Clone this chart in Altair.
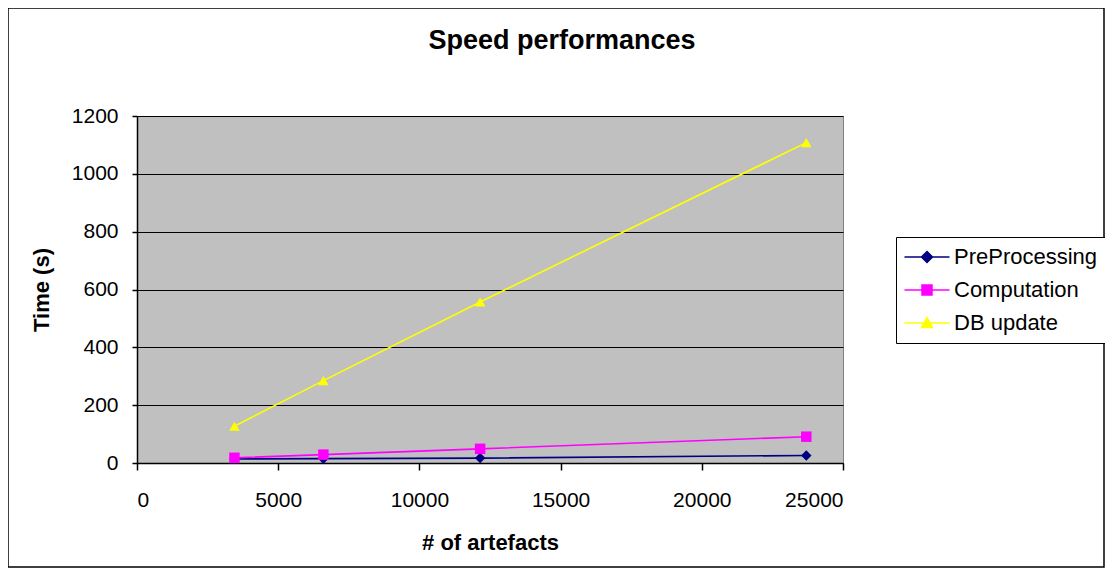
import altair as alt
import pandas as pd

artefacts = [3450, 6600, 12150, 23700]
series_names = ["PreProcessing", "Computation", "DB update"]
preprocessing = [14, 15, 17, 26]
computation = [18, 29, 49, 91]
db_update = [127, 285, 557, 1108]
series_colors = ["#000080", "#FF00FF", "#FFFF00"]
marker_shapes = ["diamond", "square", "triangle-up"]
x_ticks = [0, 5000, 10000, 15000, 20000, 25000]
y_ticks = [0, 200, 400, 600, 800, 1000, 1200]

rows = []
for name, vals in zip(series_names, [preprocessing, computation, db_update]):
    for i, (a, v) in enumerate(zip(artefacts, vals)):
        rows.append({"artefacts": a, "time": v, "series": name, "order": i})
df = pd.DataFrame(rows)

FONT = "Liberation Sans"

legend_paths = [
    "M-4.5,0H4.5M0,-1.1L1.1,0L0,1.1L-1.1,0Z",
    "M-4.5,0H4.5M-1,-1H1V1H-1Z",
    "M-4.5,0H4.5M0,-1.1L1.1,0.9L-1.1,0.9Z",
]

x_enc = alt.X(
    "artefacts:Q",
    scale=alt.Scale(domain=[0, 25000], nice=False),
    axis=alt.Axis(
        title="# of artefacts",
        values=x_ticks,
        format="d",
        grid=False,
        tickSize=7,
        labelPadding=19,
        titlePadding=22,
    ),
)
y_enc = alt.Y(
    "time:Q",
    scale=alt.Scale(domain=[0, 1200], nice=False),
    axis=alt.Axis(
        title="Time (s)",
        values=y_ticks,
        format="d",
        grid=True,
        tickSize=5,
        labelPadding=14,
        titlePadding=18,
    ),
)

legend = alt.Legend(
    title=None,
    orient="none",
    legendX=759,
    legendY=121,
    direction="vertical",
    strokeColor="black",
    fillColor="white",
    padding=9,
    symbolSize=100,
    symbolOffset=11,
    labelOffset=16,
    rowPadding=11,
    labelFont=FONT,
    labelFontSize=22,
    labelColor="black",
    symbolStrokeWidth=1.5,
    symbolOpacity=1,
)

color_scale = alt.Scale(domain=series_names, range=series_colors)

base = alt.Chart(df)

lines = base.mark_line(strokeWidth=1.6).encode(
    x=x_enc,
    y=y_enc,
    color=alt.Color("series:N", scale=color_scale, legend=None),
    order="order:Q",
)

points = base.mark_point(filled=True, size=110, opacity=1).encode(
    x=x_enc,
    y=y_enc,
    color=alt.Color("series:N", scale=color_scale, legend=None),
    shape=alt.Shape(
        "series:N",
        scale=alt.Scale(domain=series_names, range=marker_shapes),
        legend=None,
    ),
)

legend_layer = (
    base.transform_filter("false")
    .mark_point(filled=True, strokeWidth=1.5, opacity=1)
    .encode(
        x=x_enc,
        y=y_enc,
        fill=alt.Fill("series:N", scale=color_scale, legend=legend),
        stroke=alt.Stroke("series:N", scale=color_scale, legend=legend),
        shape=alt.Shape(
            "series:N",
            scale=alt.Scale(domain=series_names, range=legend_paths),
            legend=legend,
        ),
    )
)

border = alt.Chart(pd.DataFrame({"b": [0]})).mark_rect(
    filled=False, stroke="black", strokeWidth=1.5
).encode(
    x=alt.value(-129),
    x2=alt.value(967),
    y=alt.value(-108),
    y2=alt.value(451),
)

chart = (
    alt.layer(border, lines, points, legend_layer)
    .resolve_scale(shape="independent", color="independent",
                   fill="independent", stroke="independent")
    .properties(
        width=706,
        height=347,
        autosize=alt.AutoSizeParams(type="none"),
        padding={"left": 129, "top": 108, "right": 262, "bottom": 105},
        title=alt.TitleParams(
            "Speed performances",
            font=FONT,
            fontSize=27,
            fontWeight="bold",
            color="black",
            anchor="middle",
            dx=72,
            offset=-69,
            baseline="alphabetic",
        ),
    )
    .configure(background="white")
    .configure_view(fill="#C0C0C0", stroke="#808080", strokeWidth=1)
    .configure_axis(
        labelFont=FONT,
        labelFontSize=21,
        labelColor="black",
        titleFont=FONT,
        titleFontSize=22,
        titleFontWeight="bold",
        titleColor="black",
        domainColor="black",
        domainWidth=1.5,
        tickColor="black",
        tickWidth=1.5,
        gridColor="black",
        gridWidth=1.2,
        gridOpacity=1,
    )
)

chart.save("out.html", embed_options={"renderer": "svg", "actions": False})
